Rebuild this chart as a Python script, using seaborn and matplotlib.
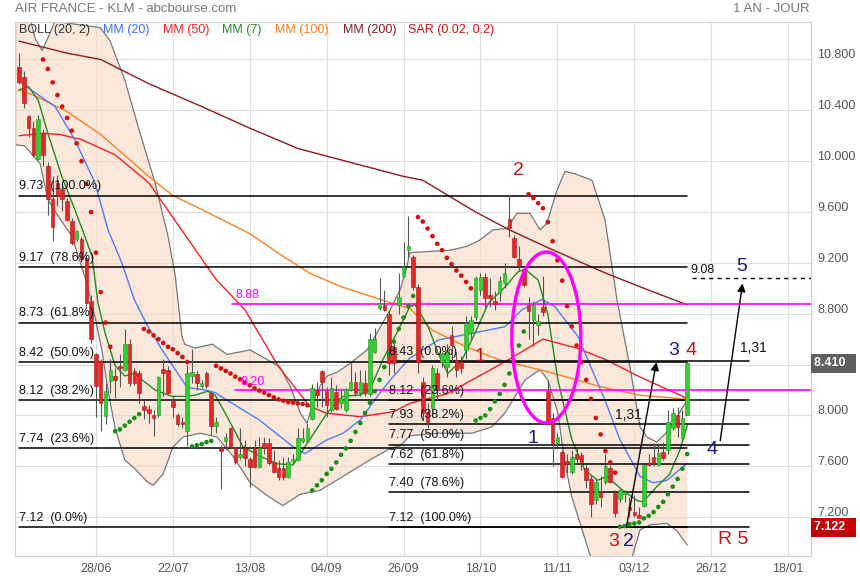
import numpy as np
import pandas as pd
import matplotlib
matplotlib.use("Agg")
import matplotlib.pyplot as plt
import matplotlib.transforms as mtransforms
from matplotlib.patches import Ellipse
import seaborn as sns

# ─────────────────────────────────────────────
# DATA  (daily candles, bar index 0..139)
# ─────────────────────────────────────────────
opens = [10.74, 10.665, 10.355, 10.26, 10.02, 10.22, 9.96, 9.70, 9.83, 9.78,
         9.685, 9.53, 9.384, 9.39, 9.24, 8.90, 8.48, 8.43, 7.994, 8.27,
         8.308, 8.39, 8.36, 8.565, 8.348, 8.335, 8.073, 8.05, 8.007, 8.007,
         8.366, 8.36, 8.11, 8.007, 7.947, 7.876, 8.31, 8.327, 8.23, 8.335,
         8.177, 7.917, 7.74, 7.80, 7.904, 7.741, 7.67, 7.74, 7.657, 7.741,
         7.597, 7.78, 7.78, 7.636, 7.584, 7.584, 7.518, 7.64, 7.65, 7.80,
         7.795, 7.97, 8.20, 8.352, 8.19, 8.04, 8.187, 8.10, 8.043, 8.20,
         8.266, 8.174, 8.258, 8.166, 8.502, 8.843, 8.869, 8.80, 8.54, 8.87,
         9.097, 9.30, 9.249, 9.013, 8.265, 8.03, 8.055, 8.331, 8.423, 8.384,
         8.632, 8.436, 8.423, 8.514, 8.646, 8.777, 8.987, 9.09, 8.95, 8.90,
         8.96, 9.04, 9.543, 9.393, 9.228, 9.149, 8.87, 8.75, 8.71, 8.85,
         8.195, 7.977, 7.78, 7.715, 7.64, 7.557, 7.70, 7.688, 7.583, 7.50,
         7.334, 7.40, 7.478, 7.583, 7.386, 7.339, 7.38, 7.28, 7.24, 7.22,
         7.287, 7.622, 7.67, 7.609, 7.714, 7.727, 7.898, 8.0, 7.819, 8.003]
highs = [10.85, 10.71, 10.36, 10.32, 10.36, 10.25, 9.99, 9.88, 9.895, 9.84,
         9.71, 9.55, 9.46, 9.40, 9.265, 8.95, 8.49, 8.44, 8.256, 8.44,
         8.37, 8.48, 8.676, 8.60, 8.37, 8.36, 8.125, 8.085, 8.046, 8.31,
         8.44, 8.39, 8.15, 8.02, 7.99, 8.40, 8.52, 8.35, 8.28, 8.35,
         8.19, 7.99, 7.77, 7.86, 7.91, 7.755, 7.90, 7.81, 7.675, 7.81,
         7.83, 7.83, 7.82, 7.73, 7.65, 7.675, 7.675, 7.70, 7.90, 7.90,
         7.94, 8.25, 8.26, 8.36, 8.22, 8.30, 8.24, 8.20, 8.215, 8.41,
         8.345, 8.36, 8.36, 8.646, 8.685, 9.08, 8.99, 8.83, 8.60, 9.12,
         9.367, 9.57, 9.26, 9.03, 8.30, 8.10, 8.40, 8.37, 8.50, 8.56,
         8.70, 8.50, 8.47, 8.78, 8.78, 9.10, 9.12, 9.12, 9.08, 8.98,
         9.10, 9.20, 9.734, 9.42, 9.33, 9.17, 8.93, 8.90, 8.80, 9.10,
         8.27, 8.02, 7.86, 7.73, 7.70, 7.73, 7.75, 7.71, 7.62, 7.53,
         7.50, 7.52, 7.70, 7.61, 7.41, 7.425, 7.415, 7.36, 7.37, 7.28,
         7.62, 7.70, 7.78, 7.77, 7.79, 8.04, 8.055, 8.07, 8.04, 8.42]
lows = [10.61, 10.415, 10.19, 10.035, 10.01, 9.96, 9.58, 9.37, 9.65, 9.61,
        9.53, 9.34, 9.37, 9.21, 8.86, 8.57, 7.99, 7.88, 7.93, 8.18,
        8.14, 8.22, 8.35, 8.23, 8.24, 8.10, 7.968, 7.94, 7.837, 7.99,
        8.15, 8.165, 7.99, 7.915, 7.90, 7.76, 8.256, 8.20, 8.215, 8.215,
        7.846, 7.86, 7.42, 7.73, 7.74, 7.62, 7.66, 7.60, 7.44, 7.584,
        7.584, 7.70, 7.61, 7.545, 7.49, 7.49, 7.505, 7.62, 7.64, 7.78,
        7.79, 7.96, 8.07, 8.07, 7.99, 8.03, 8.04, 8.06, 8.03, 8.19,
        8.15, 8.15, 8.15, 8.15, 8.49, 8.83, 8.82, 8.32, 8.33, 8.80,
        9.09, 9.25, 8.99, 8.33, 7.96, 7.90, 8.0, 8.12, 8.38, 8.30,
        8.42, 8.30, 8.33, 8.44, 8.60, 8.75, 8.95, 8.85, 8.85, 8.83,
        8.90, 9.00, 9.40, 9.235, 9.14, 9.01, 8.60, 8.55, 8.63, 8.78,
        7.95, 7.60, 7.75, 7.505, 7.55, 7.54, 7.62, 7.57, 7.43, 7.20,
        7.30, 7.28, 7.46, 7.465, 7.20, 7.32, 7.32, 7.20, 7.20, 7.19,
        7.28, 7.60, 7.60, 7.60, 7.65, 7.70, 7.885, 7.83, 7.81, 8.0]
closes = [10.625, 10.455, 10.26, 10.05, 10.33, 10.05, 9.70, 9.48, 9.73, 9.70,
          9.54, 9.36, 9.449, 9.23, 8.885, 8.60, 8.23, 8.10, 8.19, 8.36,
          8.282, 8.37, 8.558, 8.256, 8.256, 8.177, 8.046, 8.02, 7.98, 8.30,
          8.335, 8.177, 8.07, 7.93, 7.93, 8.335, 8.34, 8.256, 8.256, 8.23,
          7.915, 7.951, 7.72, 7.827, 7.754, 7.636, 7.697, 7.662, 7.597, 7.597,
          7.741, 7.741, 7.623, 7.557, 7.518, 7.518, 7.636, 7.66, 7.82, 7.82,
          7.899, 8.213, 8.16, 8.266, 8.08, 8.213, 8.048, 8.14, 8.205, 8.266,
          8.174, 8.266, 8.174, 8.599, 8.599, 8.886, 8.83, 8.41, 8.41, 8.93,
          9.17, 9.33, 9.013, 8.423, 8.016, 7.95, 8.375, 8.20, 8.488, 8.502,
          8.554, 8.357, 8.37, 8.724, 8.75, 9.078, 9.09, 8.92, 8.92, 8.88,
          9.06, 9.12, 9.472, 9.249, 9.183, 9.026, 8.82, 8.87, 8.74, 8.81,
          7.95, 7.78, 7.83, 7.518, 7.62, 7.675, 7.66, 7.623, 7.49, 7.30,
          7.478, 7.36, 7.60, 7.478, 7.234, 7.413, 7.40, 7.255, 7.22, 7.19,
          7.609, 7.609, 7.627, 7.706, 7.662, 7.95, 8.016, 7.91, 7.976, 8.41]

date_ticks = [16, 32, 48, 64, 80, 96, 112, 128, 144, 160]
date_labels = ["28/06", "22/07", "13/08", "04/09", "26/09",
               "18/10", "11/11", "03/12", "26/12", "18/01"]
price_ticks = [7.2, 7.6, 8.0, 8.4, 8.8, 9.2, 9.6, 10.0, 10.4, 10.8]

# moving averages (bar index, price)
mm7_x = [0, 1.9, 4, 6, 8.9, 11.6, 13.7, 15.2, 16.4, 17.9, 20, 22, 24.1, 25.6, 28.3, 31.8,
         34.5, 36.6, 39.3, 40.8, 43.3, 46.6, 50.1, 53.7, 57, 60.5, 64.1, 67.4, 70.9, 73,
         75.7, 78.6, 81.3, 82.4, 85.1, 87.2, 89.2, 92.2, 94.9, 97.6, 101.1, 103.8, 105.3,
         108, 110, 112.1, 115, 117.7, 120.4, 122.3, 125.6, 128.6, 129.8, 132.7, 135.4,
         137.5, 139]
mm7_y = [10.56, 10.59, 10.48, 10.22, 9.88, 9.62, 9.41, 9.25, 8.89, 8.65, 8.39, 8.31, 8.33,
         8.28, 8.20, 8.15, 8.15, 8.16, 8.19, 8.16, 7.99, 7.754, 7.68, 7.62, 7.61, 7.81, 8.02,
         8.15, 8.16, 8.20, 8.44, 8.65, 8.856, 8.87, 8.70, 8.49, 8.33, 8.44, 8.65, 8.88, 9.01,
         9.13, 9.15, 9.065, 8.80, 8.28, 7.81, 7.57, 7.49, 7.52, 7.41, 7.33, 7.32, 7.44, 7.54,
         7.73, 7.92]
mm20_x = [0, 3.3, 7.5, 11.6, 15.8, 18.5, 21.4, 24, 26.8, 29.7, 32.5, 35, 38.7, 40.8, 43.3,
          50, 57, 59.5, 64, 67.4, 71, 74.5, 77.8, 81.3, 87.2, 94.2, 101.1, 104.6, 108.8,
          111.5, 116.3, 121.9, 125, 129.2, 131.9, 134.8, 139]
mm20_y = [10.63, 10.54, 10.43, 10.17, 9.83, 9.46, 9.20, 8.91, 8.70, 8.52, 8.36, 8.22, 8.20,
          8.18, 8.12, 7.964, 7.754, 7.70, 7.807, 7.86, 7.964, 8.148, 8.305, 8.45, 8.593,
          8.646, 8.698, 8.83, 8.913, 8.855, 8.62, 8.12, 7.81, 7.52, 7.47, 7.49, 7.623]
mm50_x = [0, 5, 8.5, 13, 20, 27, 34, 41, 47, 54, 60.5, 64, 71, 78, 81.3, 89, 101, 109,
          116, 122, 129, 139]
mm50_y = [10.20, 10.22, 10.21, 10.17, 10.05, 9.83, 9.45, 9.07, 8.83, 8.384, 8.07, 8.017,
          7.99, 8.03, 8.095, 8.17, 8.42, 8.60, 8.53, 8.44, 8.305, 8.134]
mm100_x = [0, 3, 10, 17, 27, 32, 38, 48, 54, 60.5, 67, 74.5, 81.3, 86, 93, 100, 110, 121,
           129, 139]
mm100_y = [10.56, 10.52, 10.39, 10.21, 9.88, 9.73, 9.62, 9.43, 9.275, 9.118, 9.013, 8.92,
           8.84, 8.67, 8.54, 8.436, 8.344, 8.226, 8.16, 8.127]
mm200_x = [0, 10, 17, 27, 38, 48, 58, 70, 80, 84, 95, 102, 110, 122, 130, 139]
mm200_y = [10.945, 10.85, 10.80, 10.61, 10.43, 10.26, 10.10, 9.98, 9.88, 9.85, 9.60, 9.46,
           9.32, 9.12, 9.0, 8.87]

# Bollinger (20, 2)
boll_up_x = [-0.8, 2.5, 3.3, 4.8, 6, 7.5, 16.9, 18.9, 22, 24.8, 28.3, 31, 32.5, 33.9, 34.5,
             36.6, 40.2, 43.3, 48.1, 51.6, 54.3, 56.4, 58.5, 59.9, 61.2, 62.6, 64.1, 66.2,
             68.9, 72.4, 74.5, 77.2, 79.3, 80.7, 81.3, 89.7, 93.2, 95.9, 98.6, 101.5, 103.6,
             106.3, 108.4, 109.8, 111.9, 113.6, 115.7, 119.2, 121.9, 124.4, 127.1, 129.2,
             130.6, 132.7, 134.8, 136.9, 139]
boll_up_y = [11.25, 11.1, 10.97, 10.87, 10.97, 11.1, 11.05, 10.95, 10.64, 10.27, 9.83, 9.41,
             9.10, 8.62, 8.56, 8.53, 8.56, 8.48, 8.515, 8.44, 8.38, 8.23, 8.02, 7.94, 8.10,
             8.23, 8.31, 8.34, 8.41, 8.515, 8.65, 8.83, 8.99, 9.17, 9.28, 9.30, 9.33, 9.38,
             9.46, 9.47, 9.59, 9.59, 9.46, 9.51, 9.77, 9.92, 9.90, 9.85, 9.54, 8.91, 8.38,
             7.91, 7.83, 7.79, 7.87, 7.99, 8.12]
boll_lo_x = [-0.8, 1.2, 4.4, 6, 8.1, 11, 13.7, 15.8, 17.3, 18.5, 20, 22, 24.1, 26.6, 27.9,
             30, 32, 34.1, 37.7, 41.2, 44.5, 48.1, 51.6, 54.9, 58.5, 62.6, 67.4, 73, 77.2,
             79.3, 81.3, 87.2, 94.2, 98.4, 101.1, 103.2, 105.3, 108.4, 110, 112.1, 113.6,
             115, 118.8, 121.9, 126.1, 129.2, 131.3, 134.8, 136.9, 139]
boll_lo_y = [10.13, 10.12, 9.98, 9.70, 9.57, 9.41, 9.09, 8.78, 8.50, 8.20, 7.90, 7.65, 7.58,
             7.48, 7.45, 7.54, 7.75, 7.83, 7.86, 7.83, 7.68, 7.47, 7.37, 7.29, 7.38, 7.41,
             7.52, 7.65, 7.74, 7.76, 7.84, 7.86, 7.86, 7.91, 8.02, 8.15, 8.28, 8.36, 8.28,
             8.02, 7.62, 7.36, 6.90, 6.65, 6.70, 7.10, 7.14, 7.15, 7.09, 6.98]

# Parabolic SAR (0.02, 0.2): runs of (first bar, side, values)
sar_red_1 = [10.80, 10.725, 10.62, 10.52, 10.43, 10.34, 10.24, 10.14, 10.00, 9.82, 9.60,
             9.28, 8.97, 8.73, 8.54]                                   # bars 5-19
sar_green_1 = [7.876, 7.89, 7.92, 7.95, 7.98, 8.01]                    # bars 20-25
sar_red_2 = [8.68, 8.66, 8.63, 8.60, 8.57, 8.54, 8.52, 8.49, 8.46, 8.42]  # bars 26-35
sar_green_2 = [7.755, 7.765, 7.775, 7.79, 7.80]                        # bars 36-40
sar_red_3 = [8.39, 8.37, 8.35, 8.33, 8.305, 8.284, 8.258, 8.237, 8.213, 8.195, 8.18, 8.16,
             8.142, 8.126, 8.116, 8.105, 8.10, 8.095, 8.09, 8.08]      # bars 41-60
sar_green_3 = [7.41, 7.45, 7.49, 7.54, 7.58, 7.63, 7.69, 7.74, 7.80, 7.87, 7.94, 8.02,
               8.10, 8.19, 8.28, 8.38, 8.48, 8.58, 8.68, 8.77, 8.86, 8.94]  # bars 61-82
sar_red_4 = [9.56, 9.525, 9.47, 9.41, 9.35, 9.30, 9.24, 9.19, 9.14, 9.10, 9.05, 9.00]  # 83-94
sar_green_4 = [7.96, 7.98, 8.00, 8.05, 8.11, 8.17, 8.24, 8.33, 8.43, 8.55, 8.66]     # 95-105
sar_red_5 = [9.74, 9.71, 9.67, 9.63, 9.52, 9.37, 9.22, 9.06, 8.86, 8.70, 8.55, 8.42, 8.28,
             8.13, 7.98, 7.85, 7.72, 7.63, 7.55]                       # bars 106-124
sar_green_5 = [7.124, 7.13, 7.145, 7.15, 7.158, 7.19, 7.21, 7.24, 7.28, 7.32, 7.38, 7.44,
               7.50, 7.58, 7.696]                                      # bars 125-139
sar_runs = [(5, "red", sar_red_1), (20, "green", sar_green_1), (26, "red", sar_red_2),
            (36, "green", sar_green_2), (41, "red", sar_red_3), (61, "green", sar_green_3),
            (83, "red", sar_red_4), (95, "green", sar_green_4), (106, "red", sar_red_5),
            (125, "green", sar_green_5)]

# Fibonacci retracements
fib_left_vals = [9.73, 9.17, 8.73, 8.42, 8.12, 7.74, 7.12]
fib_left_pct = ["100.0%", "78.6%", "61.8%", "50.0%", "38.2%", "23.6%", "0.0%"]
fib_right_vals = [8.43, 8.12, 7.93, 7.77, 7.62, 7.40, 7.12]
fib_right_pct = ["0.0%", "23.6%", "38.2%", "50.0%", "61.8%", "78.6%", "100.0%"]
magenta_levels = [8.88, 8.20]

last_price = 8.410
sar_price = 7.122

# ─────────────────────────────────────────────
# FIGURE
# ─────────────────────────────────────────────
sns.set_style("white")
plt.rcParams["font.family"] = ["Liberation Sans", "DejaVu Sans"]

W, H = 860, 580
fig = plt.figure(figsize=(W / 100, H / 100), dpi=100)
ax = fig.add_axes([15 / W, 1 - 556 / H, (811 - 15) / W, (556 - 22) / H])
ax.set_xlim(-0.83, 164.76)
ax.set_ylim(6.894, 11.095)

GRID = "#dedede"
ax.grid(True, color=GRID, lw=0.8)
ax.set_axisbelow(True)
for s in ax.spines.values():
    s.set_color("#d0d0d0")
    s.set_linewidth(0.8)

# ── Bollinger band fill ──
ax.fill(np.r_[boll_up_x, boll_lo_x[::-1]], np.r_[boll_up_y, boll_lo_y[::-1]],
        color="#fbd9c4", alpha=0.6, lw=0, zorder=1)
ax.plot([-0.8, -0.8], [boll_lo_y[0], boll_up_y[0]], color="#777777", lw=0.9, zorder=2)
sns.lineplot(x=boll_up_x, y=boll_up_y, ax=ax, color="#777777", lw=0.9, zorder=2)
sns.lineplot(x=boll_lo_x, y=boll_lo_y, ax=ax, color="#777777", lw=0.9, zorder=2)

# ── moving averages ──
ma_styles = [(mm200_x, mm200_y, "#8b1c1c"), (mm100_x, mm100_y, "#ff7f1e"),
             (mm50_x, mm50_y, "#f42020"), (mm20_x, mm20_y, "#4d7cff"),
             (mm7_x, mm7_y, "#1e8c1e")]
for mx, my, col in ma_styles:
    sns.lineplot(x=mx, y=my, ax=ax, color=col, lw=1.0, zorder=3)

# ── fibonacci lines ──
for v, p in zip(fib_left_vals, fib_left_pct):
    ax.plot([0, 138.9], [v, v], color="black", lw=1.1, zorder=4)
    ax.text(0, v + 0.025, f"{v:.2f}  ({p})", fontsize=9, color="#111111",
            ha="left", va="bottom", zorder=8)
for v, p in zip(fib_right_vals, fib_right_pct):
    ax.plot([77, 151.8], [v, v], color="black", lw=1.1, zorder=4)
    ax.text(77, v + 0.025, f"{v:.2f}  ({p})", fontsize=9, color="#111111",
            ha="left", va="bottom", zorder=8)

# ── magenta horizontal levels ──
for v, x0 in zip(magenta_levels, [44.3, 44.9]):
    ax.plot([x0, 164.8], [v, v], color="#ff00ff", lw=1.2, zorder=4)
ax.text(45.0, 8.90, "8.88", color="#ff00ff", fontsize=9, ha="left", va="bottom", zorder=8)
ax.text(46.0, 8.215, "8.20", color="#ff00ff", fontsize=9, ha="left", va="bottom", zorder=8)

# ── candles ──
df = pd.DataFrame({"o": opens, "h": highs, "l": lows, "c": closes})
df["i"] = np.arange(len(df))
up = df["c"] >= df["o"]
ax.vlines(df["i"], df["l"], df["h"], color="#555555", lw=0.8, zorder=5)
bottoms = np.minimum(df["o"], df["c"])
heights = np.maximum((df["c"] - df["o"]).abs(), 0.012)
ax.bar(df["i"][up], heights[up], bottom=bottoms[up], width=0.74,
       color="#2fd12f", edgecolor="#1c9a1c", lw=0.4, zorder=6)
ax.bar(df["i"][~up], heights[~up], bottom=bottoms[~up], width=0.74,
       color="#e32626", edgecolor="#b31414", lw=0.4, zorder=6)

# ── parabolic SAR ──
sar_rows = []
for start, side, vals in sar_runs:
    for k, v in enumerate(vals):
        sar_rows.append((start + k, v, side))
sar = pd.DataFrame(sar_rows, columns=["i", "v", "side"])
sns.scatterplot(data=sar, x="i", y="v", hue="side", ax=ax, s=11, linewidth=0,
                palette={"red": "#d40f0f", "green": "#159015"}, legend=False, zorder=7)

# ── ellipse and arrows ──
ax.add_patch(Ellipse((109.7, 8.613), 14.35, 1.345, fill=False,
                     edgecolor="#ff00ff", lw=2.4, zorder=8))
arrow_kw = dict(arrowstyle="-|>", color="black", lw=1.0, mutation_scale=12)
ax.annotate("", xy=(132.7, 8.44), xytext=(126.3, 7.11), arrowprops=arrow_kw, zorder=8)
ax.annotate("", xy=(150.6, 9.06), xytext=(145.8, 7.78), arrowprops=arrow_kw, zorder=8)
ax.plot([140, 164.8], [9.08, 9.08], color="black", lw=1.0, ls=(0, (3, 3)), zorder=4)
ax.text(139.6, 9.10, "9.08", fontsize=9, color="#111111", ha="left", va="bottom")
ax.text(152.7, 8.53, "1,31", fontsize=10, color="#111111", ha="center", va="center")
ax.text(126.7, 8.00, "1,31", fontsize=10, color="#111111", ha="center", va="center")

RED, NAVY = "#c41414", "#1a1a80"
labels_wave = [(103.8, 9.93, "2", RED), (95.9, 8.46, "1", RED), (106.9, 7.82, "1", NAVY),
               (123.8, 7.01, "3", RED), (126.7, 7.01, "2", NAVY), (136.1, 8.51, "3", NAVY),
               (139.9, 8.51, "4", RED), (144.2, 7.73, "4", NAVY), (150.4, 9.17, "5", NAVY),
               (148.6, 7.02, "R 5", RED)]
for x, y, t, col in labels_wave:
    ax.text(x, y, t, fontsize=14, color=col, ha="center", va="center", zorder=9)

# ── axes ticks ──
ax.set_xticks(date_ticks)
ax.set_xticklabels(date_labels, family=["Liberation Sans Narrow", "Liberation Sans"])
ax.tick_params(axis="x", length=0, pad=5, labelsize=9, colors="#555555")
ax.yaxis.tick_right()
ax.set_yticks(price_ticks)
ax.set_yticklabels([])
ax.tick_params(axis="y", length=0)
ax.set_xlabel("")
ax.set_ylabel("")

# right-hand price scale: labels sit a little above their grid line;
# the 8.400 label is hidden behind the last-price box, as on the site
lift = mtransforms.offset_copy(ax.get_yaxis_transform(), fig=fig, x=0, y=3, units="points")
for v in price_ticks:
    if abs(v - last_price) < 0.05:
        continue
    ax.text(1.008, v, f"{v:.3f}", transform=lift, fontsize=9, color="#555555",
            ha="left", va="center", clip_on=False)

for v, bg in [(last_price, "#5f5f5f"), (sar_price, "#c40000")]:
    ax.text(1.004, v, f"{v:.3f}  ", transform=ax.get_yaxis_transform(), fontsize=9,
            color="white", fontweight="bold", ha="left", va="center", zorder=10,
            bbox=dict(boxstyle="square,pad=0.28", fc=bg, ec="none"))

# ── header / legend row ──
def fx(px):
    return px / W

def fy(py):
    return 1 - py / H

fig.text(fx(15), fy(9), "AIR FRANCE - KLM - abcbourse.com", fontsize=9.5,
         color="#777777", va="center")
fig.text(fx(810), fy(9), "1 AN - JOUR", fontsize=9.5, color="#777777",
         ha="right", va="center")
legend_items = [(19, "BOLL (20, 2)", "#333333"), (103, "MM (20)", "#3f6fff"),
                (163, "MM (50)", "#ff2020"), (222, "MM (7)", "#1f8f1f"),
                (275, "MM (100)", "#ff7f1e"), (343, "MM (200)", "#8b1c1c"),
                (408, "SAR (0.02, 0.2)", "#d41010")]
for px, t, col in legend_items:
    fig.text(fx(px), fy(30), t, fontsize=9, color=col, va="center")

fig.savefig("out.png", dpi=100)
